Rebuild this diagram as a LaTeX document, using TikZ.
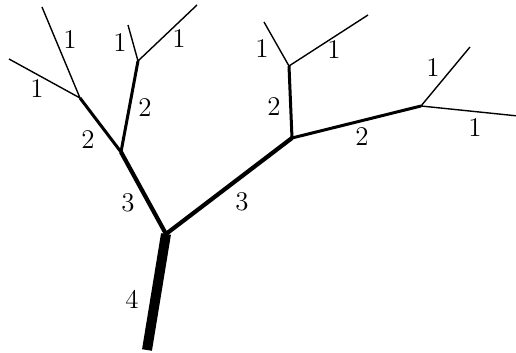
\documentclass[tikz,border=0pt]{standalone}
\usepackage{tikz}
\tikzset{
  wone/.style={line width=0.7pt},
  wtwo/.style={line width=1.5pt},
  wthree/.style={line width=2.1pt},
  wfour/.style={line width=5pt},
  lbl/.style={inner sep=0pt, font=\fontsize{13.5}{15}\selectfont}
}

\begin{document}
\begin{tikzpicture}[x=0.5pt, y=-0.5pt]
        \useasboundingbox (0,0) rectangle (516,353);

        % branching points
        \coordinate (root) at (147,350);
        \coordinate (A) at (166,234);
        \coordinate (B) at (121,152);
        \coordinate (C) at (292,138);
        \coordinate (D) at (80,98);
        \coordinate (E) at (138,61);
        \coordinate (F) at (289,66);
        \coordinate (G) at (421,106);

        % leaves
        \coordinate (d1) at (9,59);
        \coordinate (d2) at (42,7);
        \coordinate (e1) at (128,25);
        \coordinate (e2) at (197,5);
        \coordinate (f1) at (264,22);
        \coordinate (f2) at (368,15);
        \coordinate (g1) at (470,47);
        \coordinate (g2) at (518,116);

        \draw[wfour] (root) -- (A);
        \draw[wthree, line join=round] (B) -- (A) -- (C);
        \draw[wtwo] (D) -- (B) -- (E);
        \draw[wtwo] (F) -- (C) -- (G);
        \draw[wone] (d1) -- (D) -- (d2);
        \draw[wone] (e1) -- (E) -- (e2);
        \draw[wone] (f1) -- (F) -- (f2);
        \draw[wone] (g1) -- (G) -- (g2);

        \node[lbl] (n4)  at (132,299) {4};
        \node[lbl] (n3a) at (128,203) {3};
        \node[lbl] (n3b) at (242,202) {3};
        \node[lbl] (n2a) at (88,140)  {2};
        \node[lbl] (n2b) at (145,108) {2};
        \node[lbl] (n2c) at (274,107) {2};
        \node[lbl] (n2d) at (362,137) {2};
        \node[lbl] (n1a) at (37,89)   {1};
        \node[lbl] (n1b) at (70,40)   {1};
        \node[lbl] (n1c) at (120,43)  {1};
        \node[lbl] (n1d) at (179,39)  {1};
        \node[lbl] (n1e) at (262,49)  {1};
        \node[lbl] (n1f) at (334,50)  {1};
        \node[lbl] (n1g) at (433,68)  {1};
        \node[lbl] (n1h) at (475,128) {1};
    \end{tikzpicture}
\end{document}
